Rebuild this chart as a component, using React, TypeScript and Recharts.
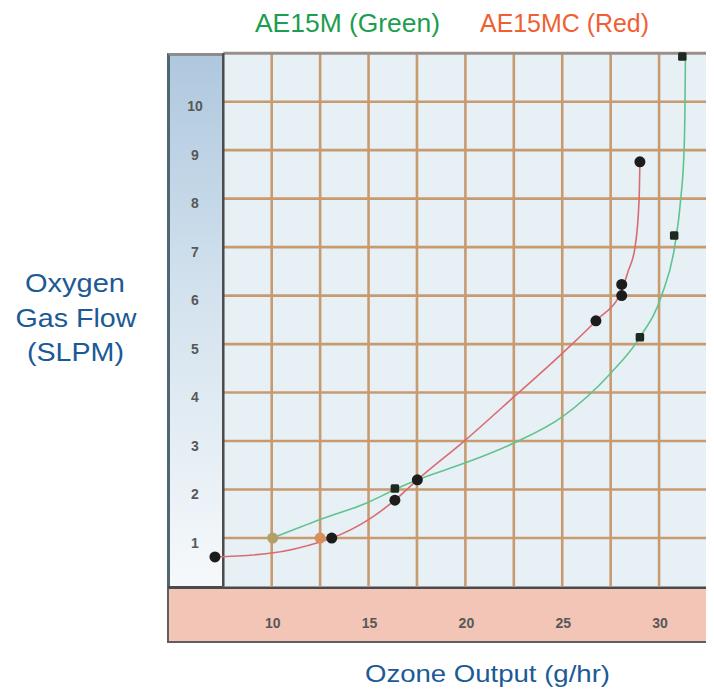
import React from 'react';
import { ComposedChart, Line, Scatter, XAxis, YAxis, ReferenceLine, ReferenceArea } from 'recharts';

// ---- data ----
const xTicks = [10, 15, 20, 25, 30];
const yTicks = [1, 2, 3, 4, 5, 6, 7, 8, 9, 10];
const xGridValues = [10, 12.5, 15, 17.5, 20, 22.5, 25, 27.5, 30, 32.5];
const yGridValues = [1, 2, 3, 4, 5, 6, 7, 8, 9, 10];

// AE15MC (red) fitted curve
const redCurve = [
  { x: 7.07, y: 0.61 }, { x: 10, y: 0.69 }, { x: 12.5, y: 0.92 }, { x: 13.1, y: 1.0 },
  { x: 15, y: 1.38 }, { x: 16.36, y: 1.78 }, { x: 17.52, y: 2.2 }, { x: 20, y: 3.02 },
  { x: 22.5, y: 3.91 }, { x: 25, y: 4.81 }, { x: 26.74, y: 5.48 }, { x: 28.07, y: 6.1 },
  { x: 28.4, y: 6.5 }, { x: 28.76, y: 7.0 }, { x: 28.97, y: 8.0 }, { x: 29.01, y: 8.76 },
];
// AE15M (green) fitted curve
const greenCurve = [
  { x: 10.05, y: 1.0 }, { x: 12.5, y: 1.38 }, { x: 15, y: 1.74 }, { x: 16.36, y: 2.0 },
  { x: 17.52, y: 2.2 }, { x: 20, y: 2.55 }, { x: 22.5, y: 2.96 }, { x: 25, y: 3.5 },
  { x: 27.5, y: 4.4 }, { x: 29.01, y: 5.14 }, { x: 30.13, y: 6.0 }, { x: 30.8, y: 7.0 },
  { x: 31.12, y: 8.0 }, { x: 31.29, y: 9.0 }, { x: 31.34, y: 10.0 }, { x: 31.36, y: 10.93 },
];
// measured points
const redPoints = [
  { x: 7.07, y: 0.61 }, { x: 13.1, y: 1.0 }, { x: 16.36, y: 1.78 }, { x: 17.52, y: 2.2 },
  { x: 26.74, y: 5.48 }, { x: 28.07, y: 6.0 }, { x: 28.07, y: 6.23 }, { x: 29.01, y: 8.76 },
];
const greenPoints = [
  { x: 16.36, y: 2.02 }, { x: 29.01, y: 5.14 }, { x: 30.78, y: 7.24 }, { x: 31.2, y: 10.93 },
];
const greenStart = [{ x: 10.05, y: 1.0 }];
const redStart = [{ x: 12.5, y: 1.0 }];

const FONT = '"Liberation Sans", Arial, sans-serif';
const TICK_FILL = '#585858';
const GRID = '#c89a70';

const YTick = (p: any) => (
  <text x={p.x} y={p.y + 9.5} textAnchor="middle" fontSize={14} fontWeight="bold" fill={TICK_FILL} fontFamily={FONT}>
    {p.payload.value}
  </text>
);
const XTick = (p: any) => (
  <text x={p.x + 1} y={p.y + 41.5} textAnchor="middle" fontSize={14} fontWeight="bold" fill={TICK_FILL} fontFamily={FONT}>
    {p.payload.value}
  </text>
);

const circleShape = (color: string, r: number) => (p: any) => (
  <circle cx={p.cx} cy={p.cy} r={r} fill={color} />
);
const squareShape = (color: string, s: number) => (p: any) => (
  <rect x={p.cx - s / 2} y={p.cy - s / 2} width={s} height={s} rx={1.5} fill={color} />
);

export default function App() {
  return (
    <div style={{ position: 'relative', width: 706, height: 683, fontFamily: FONT }}>
      {/* y axis panel */}
      <div
        style={{
          position: 'absolute', left: 159, top: 45, width: 56, height: 535, boxSizing: 'border-box',
          background: 'linear-gradient(to bottom, #afc8de 0%, #d3e2ee 45%, #f6f9fb 100%)',
          borderLeft: '3px solid #4f6673', borderTop: '3px solid #8d8d8d',
        }}
      />
      {/* x axis panel */}
      <div
        style={{
          position: 'absolute', left: 159, top: 578, width: 542, height: 57, boxSizing: 'border-box',
          background: '#f2c5b6', border: '2px solid #5f5f5f', borderTop: '3px solid #4a4a4a',
        }}
      />
      <div style={{ position: 'absolute', left: 0, top: 0 }}>
        <ComposedChart width={706} height={683} margin={{ top: 45.2, right: 6.5, bottom: 54.5, left: 0 }}>
          <XAxis
            dataKey="x" type="number" domain={[7, 32.5]} ticks={xTicks} interval={0}
            axisLine={false} tickLine={false} tickSize={0} tickMargin={0} height={50} tick={XTick}
          />
          <YAxis
            dataKey="y" type="number" domain={[0, 11]} ticks={yTicks} interval={0}
            axisLine={false} tickLine={false} tickSize={0} tickMargin={18.6} width={205.6} tick={YTick}
          />
          <ReferenceArea x1={7.5} x2={32.5} y1={0} y2={11} fill="#e7f0f5" fillOpacity={1} stroke="none" />
          {xGridValues.map((v) => (
            <ReferenceLine key={'vx' + v} segment={[{ x: v, y: 0 }, { x: v, y: 11 }]} stroke={GRID} strokeWidth={2.6} />
          ))}
          {yGridValues.map((v) => (
            <ReferenceLine key={'hy' + v} segment={[{ x: 7.5, y: v }, { x: 32.5, y: v }]} stroke={GRID} strokeWidth={2.6} />
          ))}
          <ReferenceLine segment={[{ x: 7.5, y: 11 }, { x: 32.5, y: 11 }]} stroke="#9a908a" strokeWidth={3} />
          <ReferenceLine segment={[{ x: 7.5, y: 0 }, { x: 7.5, y: 11 }]} stroke="#4a4a4a" strokeWidth={2.5} />
          <Line data={greenCurve} dataKey="y" type="monotone" stroke="#62c290" strokeWidth={1.6} dot={false} activeDot={false} isAnimationActive={false} />
          <Line data={redCurve} dataKey="y" type="monotone" stroke="#d96c72" strokeWidth={1.6} dot={false} activeDot={false} isAnimationActive={false} />
          <Scatter data={greenStart} dataKey="y" shape={circleShape('#b3a069', 5.5)} isAnimationActive={false} />
          <Scatter data={redStart} dataKey="y" shape={circleShape('#d98e5e', 5.5)} isAnimationActive={false} />
          <Scatter data={greenPoints} dataKey="y" shape={squareShape('#1c2a22', 8.5)} isAnimationActive={false} />
          <Scatter data={redPoints} dataKey="y" shape={circleShape('#1c1c1c', 5.5)} isAnimationActive={false} />
        </ComposedChart>
      </div>
      <svg width={706} height={683} style={{ position: 'absolute', left: 0, top: 0, pointerEvents: 'none' }}>
        <text x={247} y={23.7} fontSize={25} fill="#1c9d50" fontFamily={FONT} textLength={185} lengthAdjust="spacingAndGlyphs">AE15M (Green)</text>
        <text x={472} y={23.7} fontSize={25} fill="#ef5f33" fontFamily={FONT} textLength={169} lengthAdjust="spacingAndGlyphs">AE15MC (Red)</text>
        <text x={67} y={283.7} fontSize={25} fill="#1b5a95" fontFamily={FONT} textAnchor="middle" textLength={100} lengthAdjust="spacingAndGlyphs">Oxygen</text>
        <text x={68} y={318.7} fontSize={25} fill="#1b5a95" fontFamily={FONT} textAnchor="middle" textLength={121} lengthAdjust="spacingAndGlyphs">Gas Flow</text>
        <text x={67.5} y={353} fontSize={25} fill="#1b5a95" fontFamily={FONT} textAnchor="middle" textLength={97} lengthAdjust="spacingAndGlyphs">(SLPM)</text>
        <text x={357} y={673.7} fontSize={24} fill="#1b5a95" fontFamily={FONT} textLength={245} lengthAdjust="spacingAndGlyphs">Ozone Output (g/hr)</text>
      </svg>
    </div>
  );
}
